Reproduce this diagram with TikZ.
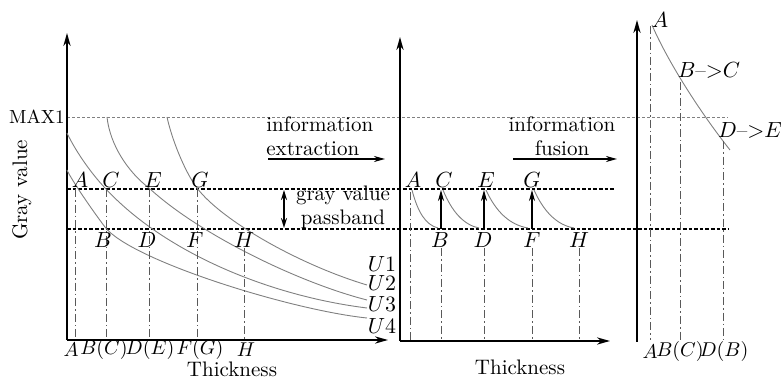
\documentclass[tikz,border=0pt]{standalone}
\usetikzlibrary{arrows.meta}

\begin{document}
\begin{tikzpicture}[x=0.5pt,y=-0.5pt, every node/.style={font=\fontsize{10.5}{12}\selectfont, inner sep=1pt},
    axis/.style={line width=1pt, -{Stealth[length=6.5pt,width=3.6pt]}},
    flow/.style={line width=0.8pt, -{Stealth[length=5.5pt,width=3pt]}},
    band/.style={line width=0.9pt, dash pattern=on 1.8pt off 1pt},
    maxline/.style={gray, line width=0.4pt, dash pattern=on 1.5pt off 1pt},
    proj/.style={gray!70!black, line width=0.5pt, dash pattern=on 4pt off 1.5pt on 0.8pt off 1.5pt},
    curve/.style={gray, line width=0.45pt},
    tick/.style={font=\fontsize{10}{12}\selectfont, inner sep=0pt}]
    \useasboundingbox (0,0) rectangle (784,379);

    \coordinate (o1) at (67,340);
    \coordinate (yt1) at (67,33);
    \coordinate (xt1) at (388,340);
    \coordinate (o2) at (400,341);
    \coordinate (yt2) at (400,37);
    \coordinate (xt2) at (610,341);
    \coordinate (o3) at (637,342);
    \coordinate (yt3) at (637,20);

    \draw[maxline] (67,117) -- (728,117);
    \draw[band] (67,189) -- (615,189);
    \draw[band] (67,229) -- (728,229);

    \draw[axis] (o1) -- (yt1);
    \draw[axis] (o1) -- (xt1);
    \draw[axis] (o2) -- (yt2);
    \draw[axis] (o2) -- (xt2);
    \draw[axis] (o3) -- (yt3);

    \node[left, font=\fontsize{9.5}{11}\selectfont] (max) at (67,117) {MAX1};
    \node[rotate=90] (gv) at (22,190) {Gray value};
    \node (tk1) at (232,369) {Thickness};
    \node (tk2) at (520,367) {Thickness};

    \draw[curve] (67,170) .. controls (72,181) and (95,214) .. (105,227)
                 .. controls (130,260) and (290,310) .. (367,318);
    \draw[curve] (67,133) .. controls (75,150) and (90,172) .. (105,188)
                 .. controls (165,253) and (270,296) .. (367,308);
    \draw[curve] (107,117) .. controls (110,145) and (128,172) .. (149,188)
                 .. controls (200,235) and (300,283) .. (367,300);
    \draw[curve] (167,117) .. controls (172,140) and (185,172) .. (197,188)
                 .. controls (222,221) and (300,265) .. (367,285);

    \foreach \x/\y in {75/189, 106/189, 149/189, 197/189, 244/248, 410/192, 441/248, 484/248, 532/248, 579/248}
        \draw[proj] (\x,\y) -- (\x,340);

    \foreach \n/\x in {A/80, C/111, E/153, G/200}
        \node (l\n) at (\x,180) {$\n$};
    \foreach \n/\x in {B/103, D/147, F/195, H/244}
        \node (l\n) at (\x,240) {$\n$};
    \node[tick] (xA) at (71,350) {$A$};
    \node[tick] (xBC) at (104,350) {$B(C)$};
    \node[tick] (xDE) at (150,350) {$D(E)$};
    \node[tick] (xFG) at (200,350) {$F(G)$};
    \node[tick] (xH) at (246,350) {$H$};

    \node (u1) at (382,264) {$U1$};
    \node (u2) at (382,283) {$U2$};
    \node (u3) at (382,304) {$U3$};
    \node (u4) at (382,326) {$U4$};

    \node[align=left, anchor=west, inner sep=0pt] (ext) at (266,136) {information\\extraction};
    \coordinate (e1) at (268,159);
    \coordinate (e2) at (385,159);
    \draw[flow] (e1) -- (e2);

    \coordinate (pb1) at (284,190);
    \coordinate (pb2) at (284,228);
    \draw[flow, {Stealth[length=5pt,width=3pt]}-{Stealth[length=5pt,width=3pt]}] (pb1) -- (pb2);
    \node[align=center, inner sep=0pt] (pass) at (343,207) {gray value\\passband};

    \foreach \n/\x in {A/413, C/444, E/486, G/532}
        \node (m\n) at (\x,180) {$\n$};
    \foreach \n/\x in {B/440, D/483, F/532, H/579}
        \node (m\n) at (\x,240) {$\n$};
    \draw[curve] (412,190) .. controls (418,213) and (426,225) .. (438,228);
    \draw[curve] (443,190) .. controls (452,212) and (464,225) .. (479,228);
    \draw[curve] (486,190) .. controls (496,212) and (510,225) .. (528,228);
    \draw[curve] (534,190) .. controls (544,212) and (557,225) .. (574,228);
    \foreach \x in {441, 484, 532}
        \draw[flow] (\x,229) -- (\x,190);

    \node[align=center, inner sep=0pt] (fus) at (562,136) {information\\fusion};
    \coordinate (f1) at (513,159);
    \coordinate (f2) at (617,159);
    \draw[flow] (f1) -- (f2);

    \draw[curve] (652,25) .. controls (668,62) and (700,112) .. (730,150);
    \draw[proj] (650,26) -- (650,340);
    \draw[proj] (680,82) -- (680,340);
    \draw[proj] (723,141) -- (723,340);
    \node (rA) at (660,20) {$A$};
    \node (rBC) at (709,70) {$B$--${>}C$};
    \node (rDE) at (750,130) {$D$--${>}E$};
    \node[tick] (qA) at (650,352) {$A$};
    \node[tick] (qBC) at (680,352) {$B(C)$};
    \node[tick] (qDB) at (724,352) {$D(B)$};
\end{tikzpicture}
\end{document}
